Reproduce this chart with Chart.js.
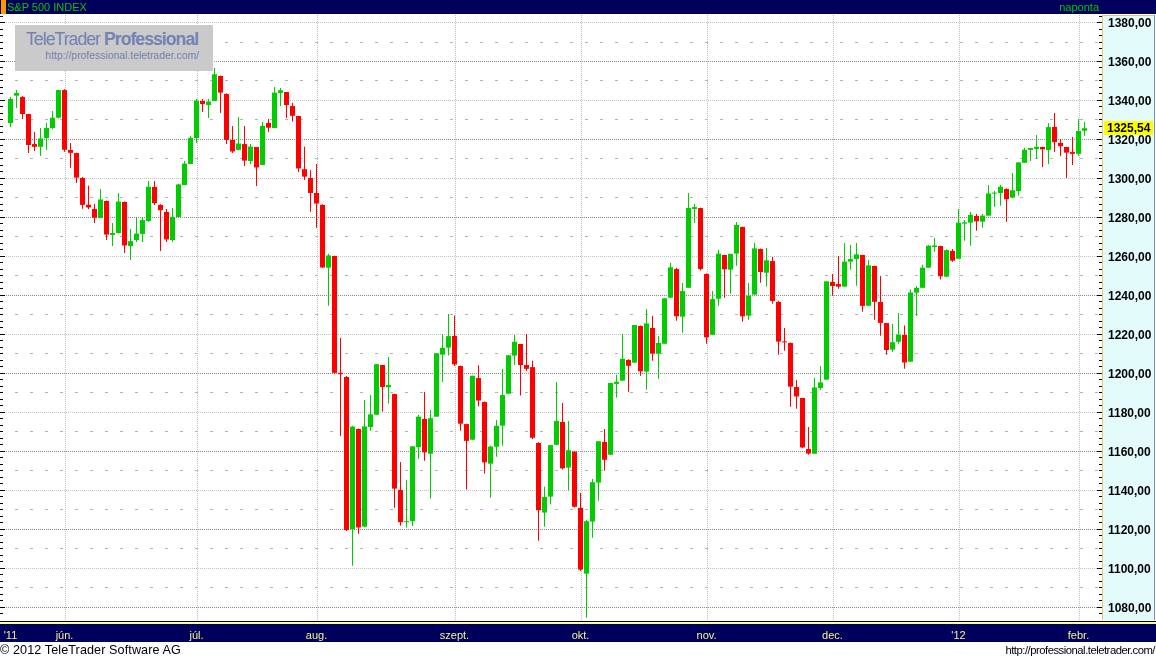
<!DOCTYPE html>
<html><head><meta charset="utf-8">
<script src="https://cdn.jsdelivr.net/npm/chart.js@4.4.1/dist/chart.umd.min.js"></script>
<style>
html,body{margin:0;padding:0;background:#fff;}
#wrap{position:relative;width:1156px;height:659px;overflow:hidden;font-family:"Liberation Sans",Arial,sans-serif;}
#c{position:absolute;left:0;top:0;}
#hdr{position:absolute;left:0;top:0;width:1156px;height:14px;background:#00005c;}
#hdr .tag{position:absolute;left:1px;top:0;width:5px;height:14px;background:#ff9900;}
#hdr .t{position:absolute;top:0;line-height:15px;font-size:11px;color:#00c800;white-space:nowrap;}
#wm{position:absolute;left:15px;top:25px;width:198px;height:46px;background:#cacaca;color:#7482b4;}
#wm .w1{position:absolute;left:11px;top:4px;font-size:17.5px;letter-spacing:-0.9px;line-height:20px;white-space:nowrap;}
#wm .w2{position:absolute;right:14px;top:25px;font-size:10.4px;line-height:12px;white-space:nowrap;}
#ftl{position:absolute;left:0;top:642px;height:17px;line-height:17px;font-size:12.6px;letter-spacing:0.1px;color:#000;white-space:nowrap;}
#ftr{position:absolute;right:1px;top:642px;height:17px;line-height:17px;font-size:11.3px;letter-spacing:-0.5px;color:#000;white-space:nowrap;}
</style></head><body>
<div id="wrap">
<canvas id="c" width="1156" height="659"></canvas>
<div id="hdr"><div class="tag"></div><div class="t" style="left:7px">S&amp;P 500 INDEX</div><div class="t" style="right:57px">naponta</div></div>
<div id="wm"><div class="w1">TeleTrader <b>Professional</b></div><div class="w2">http://professional.teletrader.com/</div></div>
<div id="ftl">© 2012 TeleTrader Software AG</div>
<div id="ftr">http://professional.teletrader.com/</div>
</div>
<script>
// ---------- DATA ----------
const dates = [
'2011-05-18','2011-05-19','2011-05-20','2011-05-23','2011-05-24','2011-05-25','2011-05-26','2011-05-27','2011-05-31',
'2011-06-01','2011-06-02','2011-06-03','2011-06-06','2011-06-07','2011-06-08','2011-06-09','2011-06-10','2011-06-13','2011-06-14','2011-06-15','2011-06-16','2011-06-17','2011-06-20','2011-06-21','2011-06-22','2011-06-23','2011-06-24','2011-06-27','2011-06-28','2011-06-29','2011-06-30',
'2011-07-01','2011-07-05','2011-07-06','2011-07-07','2011-07-08','2011-07-11','2011-07-12','2011-07-13','2011-07-14','2011-07-15','2011-07-18','2011-07-19','2011-07-20','2011-07-21','2011-07-22','2011-07-25','2011-07-26','2011-07-27','2011-07-28','2011-07-29',
'2011-08-01','2011-08-02','2011-08-03','2011-08-04','2011-08-05','2011-08-08','2011-08-09','2011-08-10','2011-08-11','2011-08-12','2011-08-15','2011-08-16','2011-08-17','2011-08-18','2011-08-19','2011-08-22','2011-08-23','2011-08-24','2011-08-25','2011-08-26','2011-08-29','2011-08-30','2011-08-31',
'2011-09-01','2011-09-02','2011-09-06','2011-09-07','2011-09-08','2011-09-09','2011-09-12','2011-09-13','2011-09-14','2011-09-15','2011-09-16','2011-09-19','2011-09-20','2011-09-21','2011-09-22','2011-09-23','2011-09-26','2011-09-27','2011-09-28','2011-09-29','2011-09-30',
'2011-10-03','2011-10-04','2011-10-05','2011-10-06','2011-10-07','2011-10-10','2011-10-11','2011-10-12','2011-10-13','2011-10-14','2011-10-17','2011-10-18','2011-10-19','2011-10-20','2011-10-21','2011-10-24','2011-10-25','2011-10-26','2011-10-27','2011-10-28','2011-10-31',
'2011-11-01','2011-11-02','2011-11-03','2011-11-04','2011-11-07','2011-11-08','2011-11-09','2011-11-10','2011-11-11','2011-11-14','2011-11-15','2011-11-16','2011-11-17','2011-11-18','2011-11-21','2011-11-22','2011-11-23','2011-11-25','2011-11-28','2011-11-29','2011-11-30',
'2011-12-01','2011-12-02','2011-12-05','2011-12-06','2011-12-07','2011-12-08','2011-12-09','2011-12-12','2011-12-13','2011-12-14','2011-12-15','2011-12-16','2011-12-19','2011-12-20','2011-12-21','2011-12-22','2011-12-23','2011-12-27','2011-12-28','2011-12-29','2011-12-30',
'2012-01-03','2012-01-04','2012-01-05','2012-01-06','2012-01-09','2012-01-10','2012-01-11','2012-01-12','2012-01-13','2012-01-17','2012-01-18','2012-01-19','2012-01-20','2012-01-23','2012-01-24','2012-01-25','2012-01-26','2012-01-27','2012-01-30','2012-01-31',
'2012-02-01','2012-02-02'];

const open = [
1328.2,1342.2,1341.5,1332.8,1317.4,1316.0,1320.5,1325.6,1330.9,
1345.1,1314.4,1312.8,1300.0,1286.3,1284.1,1279.5,1288.2,1270.8,1271.8,1287.7,1265.1,1268.2,1271.3,1277.9,1295.4,1286.2,1282.6,1268.2,1280.0,1296.4,1307.2,
1320.5,1339.5,1337.4,1339.5,1352.3,1343.1,1319.5,1314.4,1317.4,1308.7,1315.9,1306.7,1328.2,1325.6,1343.6,1344.1,1336.9,1331.8,1304.5,1300.0,
1292.3,1286.2,1254.0,1260.0,1200.1,1198.0,1119.8,1171.3,1121.2,1172.3,1178.6,1204.1,1192.7,1189.2,1140.0,1123.5,1124.0,1162.0,1176.4,1158.6,1177.6,1209.4,1213.0,
1219.0,1203.6,1173.8,1165.8,1197.4,1185.1,1153.5,1162.2,1173.0,1189.4,1208.9,1214.9,1204.1,1203.0,1164.1,1128.4,1136.6,1163.2,1174.9,1151.5,1159.7,
1130.8,1097.1,1123.8,1143.8,1164.6,1158.1,1194.4,1196.1,1206.7,1205.3,1224.1,1200.7,1223.1,1209.9,1215.0,1238.6,1253.3,1228.9,1243.7,1284.1,1284.6,
1250.8,1219.6,1238.1,1260.5,1253.0,1261.2,1274.9,1229.4,1240.2,1263.6,1251.4,1257.4,1236.4,1216.2,1215.4,1192.8,1187.2,1161.0,1158.6,1192.3,1196.6,
1246.7,1245.6,1244.3,1257.1,1258.4,1260.5,1234.5,1254.9,1236.4,1225.6,1212.0,1216.0,1219.5,1205.8,1241.2,1243.7,1254.0,1264.6,1265.1,1249.4,1262.6,
1258.6,1276.6,1277.1,1280.5,1277.6,1280.7,1292.0,1292.3,1294.4,1289.9,1293.3,1307.8,1314.4,1314.9,1315.9,1314.4,1326.2,1318.0,1315.9,1313.3,
1312.4,1324.2];

const high = [
1341.5,1345.1,1342.0,1333.0,1323.6,1325.6,1328.2,1334.4,1345.3,
1345.5,1318.0,1313.0,1300.5,1296.0,1286.7,1294.4,1288.5,1276.9,1292.3,1288.0,1273.8,1280.0,1280.0,1298.5,1298.5,1286.5,1284.1,1284.6,1297.0,1308.7,1321.5,
1340.5,1340.5,1340.5,1356.4,1352.5,1343.5,1326.7,1331.3,1326.7,1317.4,1315.9,1328.7,1330.3,1346.7,1346.2,1344.1,1338.6,1331.9,1316.0,1304.0,
1307.2,1286.5,1261.2,1260.1,1218.0,1198.5,1172.9,1171.6,1186.2,1188.7,1204.5,1204.1,1208.2,1189.3,1154.4,1145.3,1162.4,1178.5,1190.3,1181.0,1210.1,1220.0,1230.3,
1229.5,1203.9,1174.0,1198.6,1204.0,1185.4,1162.7,1175.9,1202.0,1209.1,1219.5,1214.9,1220.0,1206.3,1164.5,1141.7,1163.0,1195.4,1184.6,1175.4,1159.9,
1138.5,1124.6,1145.6,1165.0,1171.3,1194.9,1199.0,1220.0,1207.0,1224.6,1224.4,1232.8,1229.2,1219.0,1238.3,1256.5,1254.0,1246.2,1292.3,1286.7,1284.7,
1251.0,1242.0,1263.2,1260.7,1261.2,1277.4,1275.0,1246.2,1266.7,1263.8,1264.1,1259.5,1237.0,1223.1,1215.6,1196.4,1187.3,1172.3,1197.5,1203.6,1247.1,
1250.8,1260.0,1266.7,1265.6,1266.7,1260.7,1258.0,1255.0,1249.7,1225.7,1225.1,1230.8,1224.3,1242.8,1244.6,1255.5,1265.7,1269.2,1265.3,1263.5,1263.6,
1284.1,1278.5,1282.6,1281.5,1281.5,1296.4,1293.3,1296.4,1294.6,1302.6,1308.1,1315.5,1315.4,1322.0,1316.0,1328.2,1333.3,1320.0,1316.0,1321.0,
1330.3,1328.7];

const low = [
1326.2,1335.9,1330.3,1312.8,1313.8,1311.3,1314.4,1325.0,1330.5,
1313.5,1305.1,1297.4,1284.2,1284.0,1276.9,1279.5,1268.2,1265.1,1271.5,1261.5,1257.9,1267.2,1267.2,1277.5,1286.2,1262.6,1267.2,1267.2,1280.0,1296.4,1307.2,
1318.0,1333.8,1330.8,1339.5,1333.3,1317.4,1312.8,1314.4,1306.2,1307.2,1295.9,1306.7,1323.6,1325.6,1336.9,1330.8,1329.0,1303.1,1299.0,1282.7,
1274.5,1254.0,1234.5,1199.5,1167.7,1119.0,1101.2,1117.6,1121.0,1170.4,1178.6,1180.2,1184.3,1130.9,1121.7,1120.8,1121.5,1156.0,1155.0,1135.6,1177.6,1195.4,1209.0,
1203.6,1170.4,1140.2,1165.5,1183.0,1148.4,1136.0,1157.0,1162.7,1189.1,1204.1,1188.4,1201.0,1166.2,1114.0,1121.2,1132.5,1163.0,1150.5,1139.7,1131.0,
1098.5,1074.5,1115.5,1134.5,1149.9,1158.0,1187.4,1196.0,1190.4,1205.3,1198.6,1191.4,1206.3,1197.1,1215.0,1238.6,1226.8,1220.7,1243.7,1277.1,1252.5,
1215.0,1219.5,1234.5,1238.6,1240.7,1255.0,1226.3,1227.3,1240.2,1246.3,1244.3,1235.5,1209.4,1211.4,1182.7,1181.7,1161.5,1158.1,1158.6,1191.3,1196.6,
1239.6,1243.2,1244.3,1253.0,1244.8,1231.4,1234.3,1227.3,1219.1,1209.4,1210.9,1215.0,1202.2,1205.8,1229.4,1243.5,1254.0,1262.2,1248.0,1249.4,1257.1,
1258.6,1267.8,1265.3,1273.0,1274.5,1280.7,1285.3,1285.8,1277.6,1289.9,1291.0,1307.8,1308.7,1309.7,1305.6,1307.2,1313.3,1311.3,1300.0,1306.7,
1311.4,1321.5];

const close = [
1340.5,1343.6,1332.8,1316.9,1316.0,1320.3,1325.6,1330.9,1345.1,
1314.5,1312.9,1300.2,1286.2,1284.9,1279.6,1289.0,1271.0,1271.8,1287.9,1265.4,1267.6,1271.5,1278.4,1295.5,1287.1,1283.5,1268.5,1280.1,1296.7,1307.4,1320.6,
1339.7,1337.9,1339.2,1353.2,1343.8,1319.5,1313.6,1317.7,1308.9,1316.1,1305.4,1326.7,1325.8,1343.8,1345.0,1337.4,1331.9,1304.9,1300.7,1292.3,
1286.9,1254.1,1260.3,1200.1,1199.4,1119.5,1172.5,1120.8,1172.6,1178.8,1204.5,1192.8,1193.9,1140.7,1123.5,1123.8,1162.4,1177.6,1159.3,1176.8,1210.1,1212.9,1218.9,
1204.4,1174.0,1165.2,1198.6,1185.9,1154.2,1162.3,1172.9,1188.7,1209.1,1216.0,1204.1,1202.1,1166.8,1129.6,1136.4,1163.0,1175.4,1151.1,1160.4,1131.4,
1099.2,1124.0,1144.0,1165.0,1155.5,1194.9,1195.5,1207.3,1203.7,1224.6,1200.9,1225.4,1209.9,1215.4,1238.3,1254.2,1229.1,1242.0,1284.6,1285.1,1253.3,
1218.3,1237.9,1261.2,1253.2,1261.1,1275.9,1229.1,1239.7,1263.9,1251.8,1257.8,1236.9,1216.1,1215.7,1193.0,1188.0,1161.8,1158.7,1192.6,1195.2,1247.0,
1244.6,1244.3,1257.1,1258.4,1260.8,1234.4,1255.2,1236.5,1225.7,1211.8,1215.8,1219.7,1205.4,1241.3,1243.7,1254.0,1265.3,1265.4,1249.6,1263.0,1257.6,
1277.1,1277.3,1281.1,1277.8,1280.7,1292.1,1292.5,1295.5,1289.1,1293.7,1308.0,1314.5,1315.4,1316.0,1314.7,1326.1,1318.4,1316.3,1313.0,1312.4,
1324.1,1325.54];

const yTickValues = [1080,1100,1120,1140,1160,1180,1200,1220,1240,1260,1280,1300,1320,1340,1360,1380];
const xTickDates  = ['2011-05-18','2011-06-01','2011-07-01','2011-08-01','2011-09-01','2011-10-03','2011-11-01','2011-12-01','2012-01-03','2012-02-01'];
const xTickLabels = ["'11","jún.","júl.","aug.","szept.","okt.","nov.","dec.","'12","febr."];

// ---------- STYLE ----------
const UP = '#00cc00', DOWN = '#ff0000';
const FONT = '"Liberation Sans", Arial, sans-serif';
const xTickIdx = xTickDates.map(d => dates.indexOf(d));
const fmt = v => v.toFixed(2).replace('.', ',');

const bodyData = dates.map((d, i) => ({x: i, y: [Math.min(open[i], close[i]), Math.max(open[i], close[i])]}));
const wickData = dates.map((d, i) => ({x: i, y: [low[i], high[i]]}));
const colors = dates.map((d, i) => close[i] >= open[i] ? UP : DOWN);

const ttPlugin = {
  id: 'tt',
  beforeDraw(chart) {
    const {ctx, chartArea: a} = chart;
    const W = chart.width;
    ctx.save();
    ctx.fillStyle = '#ffffff'; ctx.fillRect(0, 0, W, chart.height);
    // right value panel
    ctx.fillStyle = '#e4fbfc'; ctx.fillRect(a.right + 2, a.top, W - a.right - 3, a.bottom - a.top);
    ctx.fillStyle = '#efc46c';
    ctx.fillRect(a.right + 1, a.top, 1, a.bottom - a.top);
    ctx.fillRect(a.right + 1, a.top, W - a.right - 2, 1);
    ctx.fillStyle = '#7a90cc'; ctx.fillRect(W - 2, a.top, 1, a.bottom - a.top);
    // bottom date band
    ctx.fillStyle = '#000000'; ctx.fillRect(0, a.bottom + 1, W, 1);
    ctx.fillStyle = '#ffff50'; ctx.fillRect(0, a.bottom + 3, W, 1);
    ctx.fillStyle = '#00005c'; ctx.fillRect(0, a.bottom + 4, W, 18);
    ctx.restore();
  },
  beforeDatasetsDraw(chart) {
    const {ctx, chartArea: a, scales: {x, y}} = chart;
    ctx.save();
    ctx.beginPath(); ctx.rect(a.left, a.top, a.right - a.left, a.bottom - a.top); ctx.clip();
    ctx.lineWidth = 1;
    const first = yTickValues[0], step = yTickValues[1] - yTickValues[0];
    for (let v = first - step; v <= yTickValues[yTickValues.length - 1] + step; v += step / 2) {
      const py = Math.round(y.getPixelForValue(v)) + 0.5;
      if (py < a.top || py > a.bottom) continue;
      const k = Math.round((v - first) / (step / 2));
      if (k % 2 !== 0) { ctx.setLineDash([3, 12]); ctx.strokeStyle = '#b4b4b4'; }
      else if (k % 4 === 0) { ctx.setLineDash([1, 1]); ctx.strokeStyle = '#8a8a8a'; }
      else { ctx.setLineDash([1, 1]); ctx.strokeStyle = '#c2c2c2'; }
      ctx.beginPath(); ctx.moveTo(a.left, py); ctx.lineTo(a.right, py); ctx.stroke();
    }
    ctx.setLineDash([1, 1]); ctx.strokeStyle = '#c0c0c0';
    xTickIdx.slice(1).forEach(i => {
      const px = Math.round(x.getPixelForValue(i)) + 0.5;
      ctx.beginPath(); ctx.moveTo(px, a.top); ctx.lineTo(px, a.bottom); ctx.stroke();
    });
    ctx.restore();
  },
  afterDraw(chart) {
    const {ctx, chartArea: a, scales: {x, y}} = chart;
    ctx.save();
    // small axis ticks at left edge and right edge
    ctx.fillStyle = '#000';
    const first = yTickValues[0], step = yTickValues[1] - yTickValues[0];
    for (let k = -6; k <= yTickValues.length * 6; k++) {
      const v = first + k * step / 6;
      const py = Math.round(y.getPixelForValue(v));
      if (py < a.top + 1 || py > a.bottom - 1) continue;
      const len = (k % 6 === 0) ? 5 : 3;
      ctx.fillRect(a.left, py, len, 1);
      ctx.fillRect(a.right - len + 1, py, len, 1);
    }
    // month notches on yellow line
    ctx.fillStyle = '#ffffff';
    xTickIdx.slice(1).forEach(i => {
      const px = Math.round(x.getPixelForValue(i));
      ctx.fillRect(px, a.bottom + 2, 1, 2);
    });
    // last value label
    const last = close[close.length - 1];
    const py = y.getPixelForValue(last);
    ctx.fillStyle = '#ffff00';
    ctx.fillRect(a.right + 3, Math.round(py) - 7, 49, 14);
    ctx.fillStyle = '#000';
    ctx.font = 'bold 12px ' + FONT;
    ctx.textBaseline = 'middle'; ctx.textAlign = 'left';
    ctx.fillText(fmt(last), a.right + 6, Math.round(py) + 1);
    ctx.restore();
  }
};

new Chart(document.getElementById('c'), {
  type: 'bar',
  data: {
    datasets: [
      {label: 'wick', data: wickData, backgroundColor: colors, barThickness: 1, grouped: false, inflateAmount: 0, order: 2},
      {label: 'body', data: bodyData, backgroundColor: colors, barThickness: 5, grouped: false, inflateAmount: 0, minBarLength: 1, order: 1}
    ]
  },
  options: {
    responsive: false,
    animation: false,
    devicePixelRatio: 1,
    layout: {padding: {top: 15, bottom: 17, left: 0, right: 0}},
    plugins: {legend: {display: false}, tooltip: {enabled: false}, title: {display: false}},
    scales: {
      x: {
        type: 'linear', position: 'bottom', offset: false, min: -1.75, max: 181.75,
        afterBuildTicks: s => { s.ticks = xTickIdx.map(v => ({value: v})); },
        afterFit: s => { s.height = 22; s.paddingLeft = 0; s.paddingRight = 0; },
        grid: {display: false}, border: {display: false},
        ticks: {autoSkip: false, maxRotation: 0, minRotation: 0, padding: 1, color: '#f4f48c',
                font: {family: FONT, size: 11},
                callback: v => xTickLabels[xTickIdx.indexOf(v)]}
      },
      y: {
        type: 'linear', position: 'right', min: 1073.33, max: 1383.59,
        afterBuildTicks: s => { s.ticks = yTickValues.map(v => ({value: v})); },
        afterFit: s => { s.width = 55; },
        grid: {display: false, drawTicks: false}, border: {display: false},
        ticks: {padding: 7, labelOffset: 2, color: '#000', font: {family: FONT, size: 12, weight: 'bold'}, callback: v => fmt(v)}
      }
    }
  },
  plugins: [ttPlugin]
});
</script>
</body></html>
